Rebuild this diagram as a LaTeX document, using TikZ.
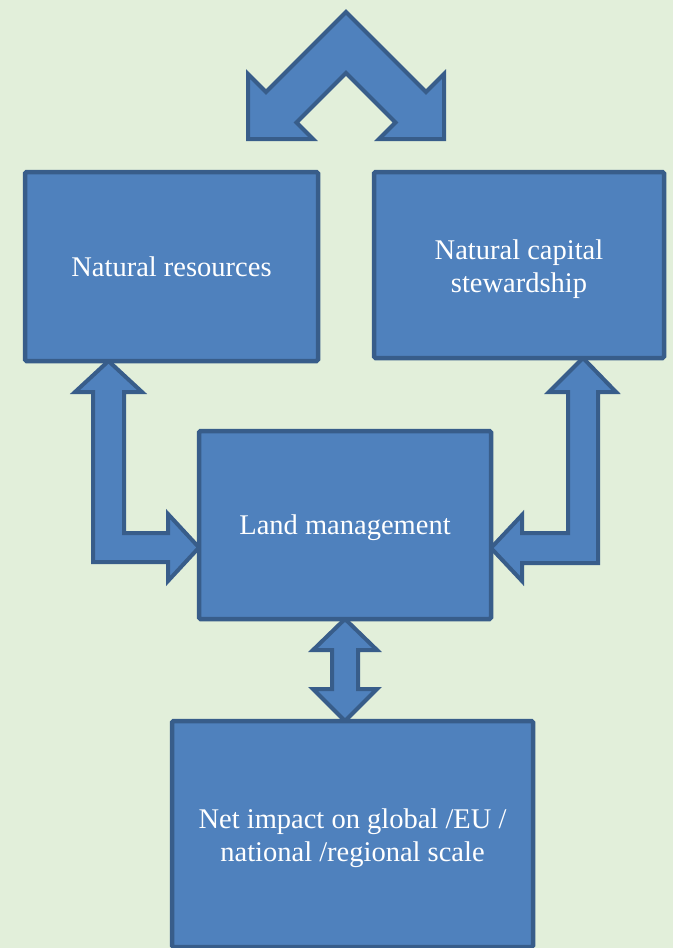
\documentclass[tikz,border=0pt]{standalone}
\usepackage{fontspec}
\setmainfont{Liberation Serif}
\definecolor{bg}{RGB}{226,239,218}
\definecolor{boxfill}{HTML}{4F81BD}
\definecolor{boxline}{HTML}{385D8A}
\pgfdeclarelayer{bglayer}
\pgfdeclarelayer{arrowlayer}
\pgfsetlayers{bglayer,arrowlayer,main}
\begin{document}
\begin{tikzpicture}[x=1pt,y=-1pt,
  box/.style={draw=boxline, fill=boxfill, line width=4.5pt, rounded corners=1.5pt,
    text=white, font=\fontsize{28.5}{33}\selectfont, align=center, inner sep=0pt, outer sep=0pt},
  blockarrow/.style={draw=boxline, fill=boxfill, line width=4pt, line join=miter}]
\useasboundingbox (0,0) rectangle (673,948);
\begin{pgfonlayer}{bglayer}
\fill[bg] (0,0) rectangle (673,948);
\end{pgfonlayer}

% boxes
\node[box, minimum width=293pt, minimum height=189pt, text depth=0pt] (nr) at (171.5,266.5) {Natural resources};
\node[box, minimum width=290pt, minimum height=186pt] (ncs) at (519,265) {\rule{0pt}{27.5pt}Natural capital\\stewardship};
\node[box, minimum width=292pt, minimum height=188pt, text depth=0pt] (lm) at (345,525) {Land management};
\node[box, minimum width=361pt, minimum height=226pt] (ni) at (352.5,834) {\rule{0pt}{27.5pt}Net impact on global /EU /\\national /regional scale};

\begin{pgfonlayer}{arrowlayer}
% top chevron arrow
\draw[blockarrow] (346,12) -- (426,92) -- (444,74) -- (444,139) -- (379,139)
  -- (395.5,122.5) -- (346,73) -- (296.5,122.5) -- (313,139) -- (248,139)
  -- (248,74) -- (266,92) -- cycle;

% left L arrow: Natural resources <-> Land management
\draw[blockarrow] (108.5,0 |- nr.south) -- (142,392) -- (124,392) -- (124,533)
  -- (168,533) -- (168,514) -- (lm.west |- 0,547.5) -- (168,581) -- (168,562)
  -- (93,562) -- (93,392) -- (75,392) -- cycle;

% right L arrow: Natural capital stewardship <-> Land management
\draw[blockarrow] (583,0 |- ncs.south) -- (616,392) -- (598,392) -- (598,563)
  -- (522,563) -- (522,581) -- (lm.east |- 0,548) -- (522,515) -- (522,533)
  -- (568,533) -- (568,392) -- (549,392) -- cycle;

% vertical double arrow: Land management <-> Net impact
\draw[blockarrow] (lm.south) -- (377,650) -- (358,650) -- (358,689)
  -- (377,689) -- (345,0 |- ni.north) -- (313,689) -- (332,689) -- (332,650)
  -- (313,650) -- cycle;
\end{pgfonlayer}
\end{tikzpicture}
\end{document}
